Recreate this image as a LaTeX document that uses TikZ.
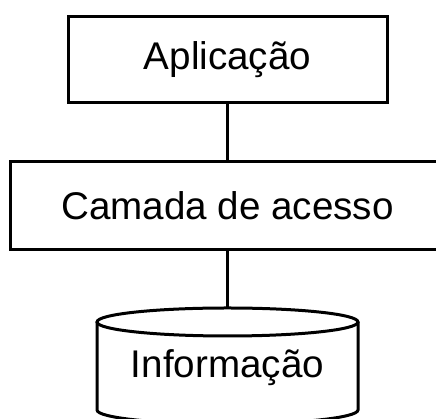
\documentclass[tikz,border=0pt]{standalone}
\usepackage{fontspec}
\setmainfont{Liberation Sans}
\usetikzlibrary{positioning}

\begin{document}
\begin{tikzpicture}[x=1pt, y=1pt, line width=3pt,
    layerbox/.style={draw, rectangle, inner sep=0pt, font=\fontsize{38.6}{46}\selectfont},
    label text/.style={font=\fontsize{38.6}{46}\selectfont}]
        \useasboundingbox (0,0) rectangle (436,419);
        % Draw the application box
        \node[layerbox, minimum width=319pt, minimum height=86pt] (app) at (227.5,359) {Aplicação};
        % Draw the access layer (runs past the right edge)
        \node[layerbox, minimum width=435pt, minimum height=88pt] (camada) at (227.5,213) {Camada de acesso};
        % Draw the storage cylinder
        \coordinate (infotop) at (227.5,111);
        \draw (97,97) -- (97,9) arc[start angle=180, end angle=360, x radius=130.5, y radius=14] -- (358,97);
        \draw (227.5,97) ellipse [x radius=130.5, y radius=14];
        \node[label text] (info) at (227.5,51) {Informação};
        % Draw the links between the layers
        \draw (app) -- (camada);
        \draw (camada) -- (infotop);
    \end{tikzpicture}
\end{document}
